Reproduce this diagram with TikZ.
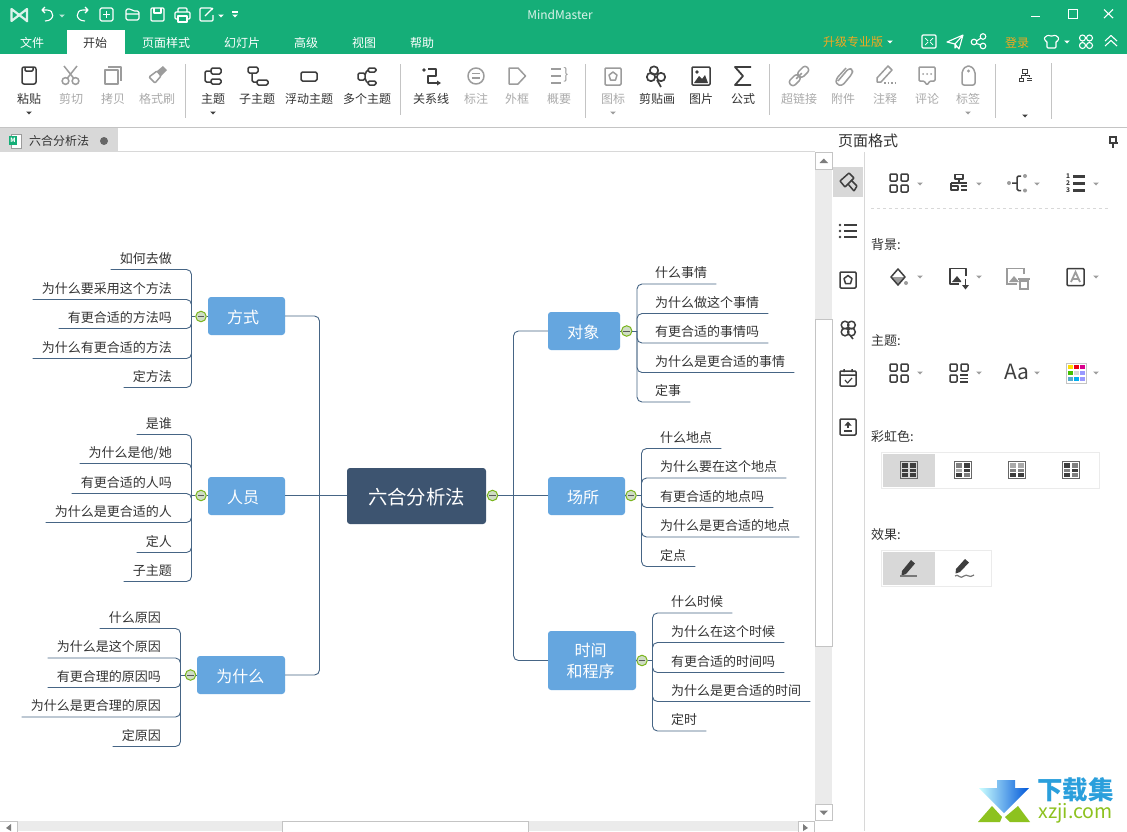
\documentclass[tikz,border=0pt]{standalone}
\usepackage{fontspec}
\setmainfont{Noto Sans CJK SC}
\usetikzlibrary{positioning}

\definecolor{barg}{HTML}{15AE78}
\definecolor{rootc}{HTML}{3D5470}
\definecolor{topicc}{HTML}{65A6DF}
\definecolor{linkc}{HTML}{466585}
\definecolor{icond}{HTML}{3E3E3E}
\definecolor{icong}{HTML}{9C9C9C}
\definecolor{textd}{HTML}{333333}
\definecolor{textg}{HTML}{AAAAAA}
\definecolor{panelg}{HTML}{D8D8D8}
\definecolor{trackg}{HTML}{EBEBEB}
\definecolor{edgeg}{HTML}{C4C4C4}
\definecolor{orangec}{HTML}{F5A81E}
\definecolor{ringc}{HTML}{7AB51D}
\definecolor{togglec}{HTML}{CFDDC4}
\definecolor{wmblue}{HTML}{2A9FDC}
\definecolor{wmgreen}{HTML}{8DC21F}

\tikzset{
    root/.style={draw=none, fill=rootc, rounded corners=3pt, text=white, minimum width=139pt, minimum height=56pt, inner sep=0pt, text height=17pt, text depth=0pt, font=\fontsize{19.4}{23}\selectfont},
    topic/.style={draw=none, fill=topicc, rounded corners=3pt, text=white, minimum height=38pt, inner sep=0pt, align=center, font=\fontsize{16}{21}\selectfont},
    topicone/.style={topic, text height=15pt, text depth=0pt},
    leafl/.style={anchor=south east, inner xsep=9pt, inner ysep=4.2pt, text height=10pt, text depth=2pt, text=textd, font=\fontsize{13}{15}\selectfont},
    leafr/.style={anchor=south west, inner xsep=9pt, inner ysep=4.2pt, text height=10pt, text depth=2pt, text=textd, font=\fontsize{13}{15}\selectfont},
    link/.style={draw=linkc, line width=0.9pt, rounded corners=5pt},
    toggle/.style={circle, draw=ringc, fill=togglec, line width=1pt, minimum size=10.5pt, inner sep=0pt,
        path picture={\draw[black!65, line width=0.8pt] ([xshift=2pt]path picture bounding box.west) -- ([xshift=-2pt]path picture bounding box.east);}},
    bartxt/.style={text=white, inner sep=0pt, font=\fontsize{12}{14}\selectfont},
    rlabel/.style={text=textd, inner sep=0pt, font=\fontsize{12}{14}\selectfont},
    rlabelg/.style={rlabel, text=textg},
    plabel/.style={anchor=west, text=textd, inner sep=0pt, font=\fontsize{13}{15}\selectfont},
    icon/.style={draw=icond, line width=1.5pt, line join=round},
    icongs/.style={draw=icong, line width=1.5pt, line join=round},
    iconw/.style={draw=white, line width=1.1pt, line join=round},
    drop/.pic={\path[pic actions] (-2.8,-1.5) -- (2.8,-1.5) -- (0,1.5) -- cycle;},
    fourbox/.pic={
        \draw[icon, rounded corners=1pt] (-9,-9) rectangle (-2,-2) (2,-9) rectangle (9,-2) (-9,2) rectangle (-2,9) (2,2) rectangle (9,9);
    }
}

% one table icon of the rainbow row
\newcommand{\tblicon}[8]{
    \draw[draw=#2!80!black, line width=1pt] (#1-8.5,470-8.5) rectangle (#1+8.5,470+8.5);
    \fill[#3] (#1-7,463) rectangle (#1-0.8,467.6);
    \fill[#4] (#1+0.8,463) rectangle (#1+7,467.6);
    \fill[#5] (#1-7,468.6) rectangle (#1-0.8,472.4);
    \fill[#6] (#1+0.8,468.6) rectangle (#1+7,472.4);
    \fill[#7] (#1-7,473.4) rectangle (#1-0.8,477);
    \fill[#8] (#1+0.8,473.4) rectangle (#1+7,477);
}

\begin{document}
\begin{tikzpicture}[x=1pt, y=-1pt]

    \useasboundingbox (0,0) rectangle (1127,831);
    \fill[white] (0,0) rectangle (1127,831);

    % Title bar and tabs
    \fill[barg] (0,0) rectangle (1127,54);
    \fill[white] (67,30) rectangle (125,54);
    \node[bartxt, text=white!85!barg] (apptitle) at (560,15) {MindMaster};
    \node[bartxt] (tabfile) at (32,43) {文件};
    \node[bartxt, text=textd] (tabstart) at (95,43) {开始};
    \node[bartxt] (tabpage) at (166,43) {页面样式};
    \node[bartxt] (tabslide) at (242,43) {幻灯片};
    \node[bartxt] (tabadv) at (306,43) {高级};
    \node[bartxt] (tabview) at (364,43) {视图};
    \node[bartxt] (tabhelp) at (422,43) {帮助};
    \node[bartxt, text=orangec] (tabpro) at (853,42) {升级专业版};
    \node[bartxt, text=orangec] (tablogin) at (1017,42.5) {登录};

    % Quick access icons
    \draw[white!85!barg, line width=2.2pt, line join=round] (27,22) -- (27,9) -- (11.5,21) -- (11.5,9) -- (27,21);
    \draw[iconw] (42,10) -- (47,10) .. controls (55,10) and (55,21) .. (45,21) (45,7) -- (42,10) -- (45,13);
    \pic[fill=white!70!barg] at (62,16) {drop};
    \draw[iconw] (88,10) -- (83,10) .. controls (75,10) and (75,21) .. (85,21) (85,7) -- (88,10) -- (85,13);
    \draw[iconw, rounded corners=1.5pt] (100,8) rectangle (113,21);
    \draw[iconw] (106.5,11) -- (106.5,18) (103,14.5) -- (110,14.5);
    \draw[iconw, rounded corners=1.5pt] (126,20) -- (126,9) -- (131,9) -- (133,11) -- (139,11) -- (139,20) -- cycle (126,14) -- (139,14);
    \draw[iconw, rounded corners=1pt] (151,8) rectangle (164,21);
    \draw[iconw] (154,8) -- (154,13) -- (161,13) -- (161,8);
    \draw[iconw, rounded corners=1pt] (178,12) -- (178,8) -- (187,8) -- (187,12) (178,19) -- (175,19) -- (175,12) -- (190,12) -- (190,19) -- (187,19);
    \draw[iconw] (178,16) rectangle (187,22);
    \draw[iconw, rounded corners=1pt] (212,10) -- (212,8) -- (200,8) -- (200,21) -- (213,21) -- (213,15);
    \draw[iconw] (205,16) -- (213,8);
    \pic[fill=white] at (221,16) {drop};
    \fill[white] (232,11) rectangle (238,12.5);
    \pic[fill=white] at (235,16) {drop};

    % Window buttons
    \draw[white, line width=1.3pt] (1031,16.5) -- (1040,16.5);
    \draw[white, line width=1pt] (1068,9.5) rectangle (1077,18.5);
    \draw[white, line width=1.1pt] (1104,9.5) -- (1113,18) (1113,9.5) -- (1104,18);

    % Icons right of the tabs
    \pic[fill=white] at (890,42) {drop};
    \draw[iconw, rounded corners=1pt] (922,35) rectangle (936,48);
    \draw[iconw, line width=0.7pt] (925,38) -- (928,41) (933,38) -- (930,41) (925,45) -- (928,42) (933,45) -- (930,42);
    \draw[iconw] (947,42) -- (963,35) -- (959,49) -- (955,44) -- cycle (955,44) -- (955,48) -- (957,46) (955,44) -- (963,35);
    \draw[iconw] (974,42) circle (2.8) (983,36.5) circle (2.8) (983,46) circle (2.8) (976.5,41) -- (981,38) (976.5,43.5) -- (981,45);
    \draw[iconw, rounded corners=1pt] (1044,38) -- (1048,35) -- (1050,36) -- (1053,36) -- (1055,35) -- (1059,38) -- (1057,42) -- (1056,41) -- (1056,48) -- (1047,48) -- (1047,41) -- (1046,42) -- cycle;
    \pic[fill=white] at (1067,42) {drop};
    \draw[iconw] (1082.5,38) circle (3) (1089.5,38) circle (3) (1082.5,45.5) circle (3) (1089.5,45.5) circle (3);
    \draw[iconw] (1105,41) -- (1111,35.5) -- (1117,41) (1105,46) -- (1111,40.5) -- (1117,46);

    % Ribbon labels
    \node[rlabel] (paste) at (29,99) {粘贴};
    \node[rlabelg] (cut) at (71,99) {剪切};
    \node[rlabelg] (copy) at (113,99) {拷贝};
    \node[rlabelg] (brush) at (157,99) {格式刷};
    \node[rlabel] (mtopic) at (213,99) {主题};
    \node[rlabel] (subtopic) at (257,99) {子主题};
    \node[rlabel] (floattopic) at (309,99) {浮动主题};
    \node[rlabel] (multitopic) at (367,99) {多个主题};
    \node[rlabel] (relline) at (431,99) {关系线};
    \node[rlabelg] (callout) at (476,99) {标注};
    \node[rlabelg] (frame) at (517,99) {外框};
    \node[rlabelg] (summary) at (559,99) {概要};
    \node[rlabelg] (mark) at (613,99) {图标};
    \node[rlabel] (clipart) at (657,99) {剪贴画};
    \node[rlabel] (photo) at (701,99) {图片};
    \node[rlabel] (formula) at (743,99) {公式};
    \node[rlabelg] (hyper) at (799,99) {超链接};
    \node[rlabelg] (attach) at (843,99) {附件};
    \node[rlabelg] (remark) at (885,99) {注释};
    \node[rlabelg] (comment) at (927,99) {评论};
    \node[rlabelg] (tag) at (968,99) {标签};

    % Ribbon separators
    \draw[edgeg, line width=0.8pt] (185,64) -- (185,118) (400,64) -- (400,115) (585,64) -- (585,118) (769,64) -- (769,115) (995,64) -- (995,118) (1051,63) -- (1051,119);
    \pic[fill=icond] at (29,113) {drop};
    \pic[fill=icond] at (213,113) {drop};
    \pic[fill=icong] at (613,113) {drop};
    \pic[fill=icong] at (968,113) {drop};
    \pic[fill=icond] at (1025,116) {drop};

    % Ribbon icons
    \begin{scope}[shift={(0,-4)}]
    \draw[icon, rounded corners=2pt] (22,71) rectangle (36,88);
    \draw[icon, rounded corners=1pt] (25,71) -- (25,75) -- (33,75) -- (33,71);
    \draw[icongs] (65.5,85) circle (3.4) (75.5,85) circle (3.4) (67.5,82) -- (77,70) (73.5,82) -- (64,70);
    \draw[icongs] (105,74) rectangle (118,88) (108,71) -- (121,71) -- (121,85);
    \draw[icongs, rounded corners=1pt] (149,81) -- (157,75) -- (161,80) -- (155,87) -- cycle;
    \fill[icong] (157,75) -- (161,80) -- (167,74) -- (163,70) -- cycle;
    \draw[icon, rounded corners=1.5pt] (211,72) rectangle (221,78) (211,83) rectangle (221,88) (211,75) -- (205,75) -- (205,86) -- (211,86);
    \draw[icon, rounded corners=1.5pt] (248,71) rectangle (258,77) (257,84) rectangle (268,89) (252,77) -- (252,86) -- (257,86);
    \draw[icon, rounded corners=1.5pt] (301,76) rectangle (317,85);
    \draw[icon, rounded corners=1.5pt] (358,77) rectangle (365,84) (368,72) rectangle (376,76) (368,85) rectangle (376,89) (365,79) -- (367,74) -- (368,74) (365,82) -- (367,87) -- (368,87);
    \fill[icond] (424,74) circle (1.8);
    \draw[icon] (428,73) -- (436,73) -- (436,80) -- (428,80) -- (428,87) -- (438,87);
    \fill[icond] (441,87) -- (437,84.5) -- (437,89.5) -- cycle;
    \draw[icongs] (476,80) circle (8);
    \draw[icongs, line width=1.1pt] (472,77.5) -- (480,77.5) (472,82) -- (480,82);
    \draw[icongs] (509,72) -- (518,72) -- (525.5,80) -- (518,88) -- (509,88) -- cycle;
    \draw[icongs, line width=1.3pt] (551,73) -- (561,73) (551,80) -- (561,80) (551,87) -- (561,87);
    \node[text=icong, inner sep=0pt, font=\fontsize{15}{15}\selectfont] (brace) at (566,79) {\}};
    \draw[icongs, rounded corners=1pt] (605,72) rectangle (621,89);
    \draw[icongs] (613,76) -- (617,79) -- (615.5,84) -- (610.5,84) -- (609,79) -- cycle;
    \draw[icon, line width=1.7pt] (654,74.5) circle (4.2) (651,81) circle (4.2) (661,81) circle (4.2) (657,84) -- (661,91);
    \draw[icon, rounded corners=1pt] (692,71) rectangle (710,89);
    \fill[icond] (694,87) -- (699,80) -- (702,83) -- (705,79) -- (708,87) -- cycle (697,76) circle (1.8);
    \draw[icon, line width=1.8pt] (751,71) -- (735,71) -- (743,80) -- (735,89) -- (751,89);
    \draw[icongs, rounded corners=3pt, rotate around={45:(799,80)}] (787,76.5) rectangle (799,83.5) (799,76.5) rectangle (811,83.5) (795,80) -- (803,80);
    \draw[icongs, rounded corners=3pt] (838,85) -- (849,72) -- (853,74) -- (852,78) -- (842,90) -- (836,88) -- (836,83) -- (846,72);
    \draw[icongs] (877,86) -- (877,82) -- (888,70) -- (892,74) -- (881,86) -- cycle;
    \draw[icongs, dotted] (884,87) -- (896,87);
    \draw[icongs, rounded corners=1pt] (919,71) -- (935,71) -- (935,85) -- (930,85) -- (927,89) -- (924,85) -- (919,85) -- cycle;
    \fill[icong] (923,78) circle (1) (927,78) circle (1) (931,78) circle (1);
    \draw[icongs, rounded corners=2pt] (962,89) -- (962,75) -- (966,70) -- (971,70) -- (975,75) -- (975,89) -- cycle;
    \fill[icong] (968.5,75) circle (1.6);
    \draw[icond, line width=1pt] (1022.5,73) rectangle (1027.5,77) (1025,77) -- (1025,79) (1019,82) rectangle (1023,85);
    \draw[icond, line width=1pt] (1027,82) -- (1032,82) (1027,84.5) -- (1032,84.5) (1021,82) -- (1021,79) -- (1029,79) -- (1029,80.5);
    \end{scope}

    % Document tab
    \draw[edgeg, line width=0.8pt] (0,127.5) -- (1127,127.5);
    \fill[panelg] (0,128) rectangle (118,151);
    \draw[panelg, line width=0.8pt] (0,151.5) -- (815,151.5);
    \draw[icong, fill=white, line width=0.6pt] (11,134) rectangle (21,148);
    \fill[barg] (9,136) rectangle (17,145);
    \node[text=white, inner sep=0pt, font=\bfseries\fontsize{6}{6}\selectfont] (docicon) at (13,140.5) {M};
    \node[rlabel, text=textd] (docname) at (59,141) {六合分析法};
    \fill[black!60] (104,141) circle (4);

    % Root
    \node[root] (liuhe) at (416.5,496) {六合分析法};
    \node[toggle] (liuhetg) at (492.5,495.5) {};

    % Left topics
    \node[topicone, minimum width=77pt] (fangshi) at (246.5,316) {方式\kern7pt};
    \node[topicone, minimum width=77pt] (renyuan) at (246.5,496) {人员\kern7pt};
    \node[topicone, minimum width=88pt] (weisha) at (241,675) {为什么\kern1.4pt};
    \node[toggle] (fangshitg) at (201,316.5) {};
    \node[toggle] (renyuantg) at (201,495.5) {};
    \node[toggle] (weishatg) at (190.5,675) {};

    % Right topics
    \node[topicone, minimum width=72pt] (duixiang) at (584,331) {对象\kern1.4pt};
    \node[topicone, minimum width=77pt] (changsuo) at (586.5,496) {场所\kern7pt};
    \node[topic, minimum width=88pt, minimum height=59pt] (shijian) at (592,660.5) {\raisebox{-1pt}{时间}\kern2.6pt\\\raisebox{-1pt}{和程序}\kern2.6pt};
    \node[toggle] (duixiangtg) at (626.7,331) {};
    \node[toggle] (changsuotg) at (631,495.5) {};
    \node[toggle] (shijiantg) at (642,660.5) {};

    % Bend points of the trunks
    \coordinate (leftj) at (319.5,495.5);
    \coordinate (rightj) at (513.5,495.5);
    \coordinate (fangshij) at (191.5,316.5);
    \coordinate (renyuanj) at (191.5,495.5);
    \coordinate (weishaj) at (180.5,675);
    \coordinate (duixiangj) at (637,331);
    \coordinate (changsuoj) at (641.5,495.5);
    \coordinate (shijianj) at (652.5,660.5);

    % Leaves of fangshi
    \node[leafl] (fs1) at (181,269.5) {如何去做};
    \node[leafl] (fs2) at (181,299.5) {为什么要采用这个方法};
    \node[leafl] (fs3) at (181,328.5) {有更合适的方法吗};
    \node[leafl] (fs4) at (181,358.5) {为什么有更合适的方法};
    \node[leafl] (fs5) at (181,387.5) {定方法};

    % Leaves of renyuan
    \node[leafl] (ry1) at (181,434.5) {是谁};
    \node[leafl] (ry2) at (181,463.5) {为什么是他/她};
    \node[leafl] (ry3) at (181,493.5) {有更合适的人吗};
    \node[leafl] (ry4) at (181,522.5) {为什么是更合适的人};
    \node[leafl] (ry5) at (181,552.5) {定人};
    \node[leafl] (ry6) at (181,581.5) {子主题};

    % Leaves of weisha
    \node[leafl] (ws1) at (170,628.5) {什么原因};
    \node[leafl] (ws2) at (170,658) {为什么是这个原因};
    \node[leafl] (ws3) at (170,687.5) {有更合理的原因吗};
    \node[leafl] (ws4) at (170,717) {为什么是更合理的原因};
    \node[leafl] (ws5) at (170,746.5) {定原因};

    % Leaves of duixiang
    \node[leafr] (dx1) at (646,284) {什么事情};
    \node[leafr] (dx2) at (646,313.5) {为什么做这个事情};
    \node[leafr] (dx3) at (646,343) {有更合适的事情吗};
    \node[leafr] (dx4) at (646,372.5) {为什么是更合适的事情};
    \node[leafr] (dx5) at (646,402) {定事};

    % Leaves of changsuo
    \node[leafr] (cs1) at (651,448.5) {什么地点};
    \node[leafr] (cs2) at (651,478) {为什么要在这个地点};
    \node[leafr] (cs3) at (651,507.5) {有更合适的地点吗};
    \node[leafr] (cs4) at (651,537) {为什么是更合适的地点};
    \node[leafr] (cs5) at (651,566.5) {定点};

    % Leaves of shijian
    \node[leafr] (sj1) at (662,613) {什么时候};
    \node[leafr] (sj2) at (662,642.5) {为什么在这个时候};
    \node[leafr] (sj3) at (662,672.5) {有更合适的时间吗};
    \node[leafr] (sj4) at (662,701.5) {为什么是更合适的时间};
    \node[leafr] (sj5) at (662,731) {定时};

    % Links from the root
    \draw[link] (fangshi.east) -| (leftj);
    \draw[link] (weisha.east) -| (leftj);
    \draw[link] (renyuan.east |- leftj) -- (liuhe.west |- leftj);
    \draw[link] (duixiang.west) -| (rightj);
    \draw[link] (shijian.west) -| (rightj);
    \draw[link] (changsuo.west |- rightj) -- (liuhetg.east);

    % Links to the toggles
    \draw[link] (fangshi.west |- fangshitg) -- (fangshitg.east);
    \draw[link] (renyuan.west |- renyuantg) -- (renyuantg.east);
    \draw[link] (weisha.west |- weishatg) -- (weishatg.east);
    \draw[link] (duixiang.east |- duixiangtg) -- (duixiangtg.west);
    \draw[link] (changsuo.east |- changsuotg) -- (changsuotg.west);
    \draw[link] (shijian.east |- shijiantg) -- (shijiantg.west);
    \draw[link] (fangshij) -- (fangshitg.west);
    \draw[link] (renyuanj) -- (renyuantg.west);
    \draw[link] (weishaj) -- (weishatg.west);
    \draw[link] (duixiangj) -- (duixiangtg.east);
    \draw[link] (changsuoj) -- (changsuotg.east);
    \draw[link] (shijianj) -- (shijiantg.east);

    % Links of the leaves, left
    \draw[link] (fs1.south west) -| (fangshij);
    \draw[link] (fs2.south west) -| (fangshij);
    \draw[link] (fs3.south west) -| (fangshij);
    \draw[link] (fs4.south west) -| (fangshij);
    \draw[link] (fs5.south west) -| (fangshij);
    \draw[link] (ry1.south west) -| (renyuanj);
    \draw[link] (ry2.south west) -| (renyuanj);
    \draw[link] (ry3.south west) -| (renyuanj);
    \draw[link] (ry4.south west) -| (renyuanj);
    \draw[link] (ry5.south west) -| (renyuanj);
    \draw[link] (ry6.south west) -| (renyuanj);
    \draw[link] (ws1.south west) -| (weishaj);
    \draw[link] (ws2.south west) -| (weishaj);
    \draw[link] (ws3.south west) -| (weishaj);
    \draw[link] (ws4.south west) -| (weishaj);
    \draw[link] (ws5.south west) -| (weishaj);

    % Links of the leaves, right
    \draw[link] (dx1.south east) -| (duixiangj);
    \draw[link] (dx2.south east) -| (duixiangj);
    \draw[link] (dx3.south east) -| (duixiangj);
    \draw[link] (dx4.south east) -| (duixiangj);
    \draw[link] (dx5.south east) -| (duixiangj);
    \draw[link] (cs1.south east) -| (changsuoj);
    \draw[link] (cs2.south east) -| (changsuoj);
    \draw[link] (cs3.south east) -| (changsuoj);
    \draw[link] (cs4.south east) -| (changsuoj);
    \draw[link] (cs5.south east) -| (changsuoj);
    \draw[link] (sj1.south east) -| (shijianj);
    \draw[link] (sj2.south east) -| (shijianj);
    \draw[link] (sj3.south east) -| (shijianj);
    \draw[link] (sj4.south east) -| (shijianj);
    \draw[link] (sj5.south east) -| (shijianj);

    % Scrollbars
    \fill[trackg] (815,152) rectangle (832,821);
    \draw[edgeg, fill=white, line width=0.8pt] (815.5,152.5) rectangle (832,169);
    \draw[edgeg, fill=white, line width=0.8pt] (815.5,319.5) rectangle (832,646.5);
    \draw[edgeg, fill=white, line width=0.8pt] (815.5,804.5) rectangle (832,820.5);
    \fill[icong!80!black] (819.5,163) -- (828,163) -- (823.8,158.5) -- cycle (819.5,810.5) -- (828,810.5) -- (823.8,815) -- cycle;
    \fill[trackg] (0,821) rectangle (814,831);
    \draw[edgeg, fill=white, line width=0.8pt] (282.5,821.5) rectangle (528.5,832);
    \draw[edgeg, fill=white, line width=0.8pt] (-1,821.5) rectangle (17.5,832);
    \draw[edgeg, fill=white, line width=0.8pt] (798.5,821.5) rectangle (814.5,832);
    \fill[icong!80!black] (11,824) -- (11,831) -- (6,828) -- cycle (803,824) -- (803,831) -- (808,828) -- cycle;

    % Side panel
    \node[text=textd, inner sep=0pt, font=\fontsize{15}{17}\selectfont] (pagefmt) at (868,141) {页面格式};
    \draw[icond, line width=1.1pt] (1110,137) rectangle (1116,143) (1108.5,143) -- (1117.5,143) (1113,143) -- (1113,148);
    \draw[panelg, line width=0.9pt] (864.5,152) -- (864.5,831);
    \fill[panelg] (833,167) rectangle (863,197);

    % Side panel tabs
    \draw[icon, rounded corners=0.5pt] (840,181) -- (849,173) -- (854,178) -- (845,187) -- cycle;
    \draw[icon, rounded corners=0.5pt] (851,180) -- (857,186) -- (854,191) -- (848,184);
    \draw[icon, line width=2.6pt] (844,225) -- (857,225) (844,231) -- (857,231) (844,237) -- (857,237);
    \fill[icond] (840,225) circle (1.3) (840,231) circle (1.3) (840,237) circle (1.3);
    \draw[icon, rounded corners=1pt] (840,272) rectangle (856,288);
    \draw[icon] (848,275.5) -- (852,278.5) -- (850.5,283.5) -- (845.5,283.5) -- (844,278.5) -- cycle;
    \draw[icon] (845,325) circle (3.8) (851.5,325) circle (3.8) (845,332) circle (3.8) (851.5,332) circle (3.8) (849,334) -- (853,339);
    \draw[icon, rounded corners=1pt] (840,371) rectangle (856,386) (840,375) -- (856,375) (844,369) -- (844,372) (852,369) -- (852,372);
    \draw[icon, line width=1.2pt] (845,380) -- (847.5,383) -- (852,378);
    \draw[icon, rounded corners=1pt] (840,419) rectangle (856,435);
    \draw[icon] (844,431) -- (852,431) (848,428) -- (848,423);
    \fill[icond] (848,421.5) -- (851.5,425.5) -- (844.5,425.5) -- cycle;

    % Panel row one
    \pic at (899,183) {fourbox};
    \draw[icon, line width=1.4pt] (955,174.5) rectangle (963,179) (959,179) -- (959,183) (951,183) -- (967,183) (951,183) -- (951,186) (951,186) rectangle (958,190);
    \draw[icon, line width=1.4pt] (961,186) -- (967,186) (961,190) -- (967,190);
    \fill[icong] (1009,183) circle (2) (1025,176) circle (2) (1025,190.5) circle (2);
    \draw[icon, rounded corners=1.5pt] (1021,176) -- (1017,176) -- (1017,190.5) -- (1021,190.5) (1012,183) -- (1017,183);
    \draw[icon, line width=3pt] (1073,176) -- (1085,176) (1073,183) -- (1085,183) (1073,190) -- (1085,190);
    \node[text=icond, inner sep=0pt, font=\bfseries\fontsize{6.5}{6.5}\selectfont] (n1) at (1068,176) {1};
    \node[text=icond, inner sep=0pt, font=\bfseries\fontsize{6.5}{6.5}\selectfont] (n2) at (1068,183) {2};
    \node[text=icond, inner sep=0pt, font=\bfseries\fontsize{6.5}{6.5}\selectfont] (n3) at (1068,190.5) {3};
    \pic[fill=icong] at (920,184) {drop};
    \pic[fill=icong] at (979,184) {drop};
    \pic[fill=icong] at (1037,184) {drop};
    \pic[fill=icong] at (1096,184) {drop};
    \draw[panelg, dashed, line width=0.8pt] (871,208.5) -- (1109,208.5);

    % Panel background row
    \node[plabel] (bgtxt) at (871,245) {背景:};
    \fill[icong] (891,277) -- (905,277) -- (898,285) -- cycle (906,283) circle (2);
    \draw[icon] (898,269) -- (905,277) -- (898,285) -- (891,277) -- cycle;
    \draw[icon, line width=1.2pt] (966,276) -- (966,268.5) -- (950,268.5) -- (950,284) -- (959,284);
    \fill[icond] (952,282) -- (957,276) -- (961,281) -- (961,282) -- cycle (962,285) -- (969,285) -- (965.5,289.5) -- cycle;
    \draw[icond, line width=1.8pt] (965.5,279) -- (965.5,286);
    \draw[icong, line width=1.2pt] (1024,274) -- (1024,268.5) -- (1007,268.5) -- (1007,284) -- (1017,284);
    \fill[icong] (1009,282) -- (1014,276) -- (1019,282) -- cycle;
    \draw[icong, line width=1.2pt] (1018,279) -- (1030,279) (1020,281) rectangle (1028,289);
    \draw[icon, rounded corners=1pt] (1067,268.5) rectangle (1084,285.5);
    \draw[icong, line width=1.8pt] (1071,282) -- (1075.5,272) -- (1080,282) (1073,279) -- (1078,279);
    \pic[fill=icong] at (920,277) {drop};
    \pic[fill=icong] at (979,277) {drop};
    \pic[fill=icong] at (1096,277) {drop};

    % Panel theme row
    \node[plabel] (themetxt) at (871,341) {主题:};
    \pic at (899,373) {fourbox};
    \draw[icon, rounded corners=1pt] (950,364) rectangle (957,371) (961,364) rectangle (968,371) (950,375) rectangle (957,382);
    \draw[icon, line width=1.4pt] (960,375) -- (968,375) (960,378.5) -- (968,378.5) (960,382) -- (968,382);
    \node[text=icond, inner sep=0pt, font=\fontsize{21}{21}\selectfont] (fontaa) at (1017,372) {Aa};
    \draw[edgeg, line width=0.8pt] (1066,363) rectangle (1086,383);
    \fill[yellow!80!orange] (1068,365) rectangle (1073,369);
    \fill[red!70!purple] (1074,365) rectangle (1079,369);
    \fill[purple!60!magenta] (1080,365) rectangle (1085,369);
    \fill[green!50!olive] (1068,371) rectangle (1073,375);
    \fill[panelg] (1074,371) rectangle (1079,375);
    \fill[blue!40!white] (1080,371) rectangle (1085,375);
    \fill[cyan!60!gray] (1068,377) rectangle (1073,381);
    \fill[cyan] (1074,377) rectangle (1079,381);
    \fill[blue!40!white] (1080,377) rectangle (1085,381);
    \pic[fill=icong] at (920,373) {drop};
    \pic[fill=icong] at (979,373) {drop};
    \pic[fill=icong] at (1037,373) {drop};
    \pic[fill=icong] at (1096,373) {drop};

    % Panel rainbow row
    \node[plabel] (rainbowtxt) at (871,437) {彩虹色:};
    \draw[trackg, line width=0.9pt] (881.5,452.5) rectangle (1099.5,488.5);
    \fill[panelg] (883,454) rectangle (935,487);
    \tblicon{909}{gray}{icond}{icond}{icond}{icond}{icond}{icond}
    \tblicon{963}{gray}{gray}{icond}{textg}{icond}{icond}{gray}
    \tblicon{1017}{gray}{textg}{textg}{gray}{gray}{icond}{icond}
    \tblicon{1071}{gray}{icond}{gray}{gray}{icond}{icond}{gray}

    % Panel effect row
    \node[plabel] (effecttxt) at (871,535) {效果:};
    \draw[trackg, line width=0.9pt] (881.5,550.5) rectangle (991.5,586.5);
    \fill[panelg] (883,552) rectangle (935,585);
    \fill[icond] (902,571) -- (911,560) -- (915,563.5) -- (906,574) -- (901.5,575.5) -- cycle;
    \fill[icond!70] (900,575) rectangle (917,577);
    \fill[icond] (956,569) -- (965,559) -- (969,562.5) -- (960,572) -- (955.5,573.5) -- cycle;
    \draw[icond!70, line width=1.2pt] (955,576) .. controls (958,573) and (960,580) .. (964,576) .. controls (967,573) and (969,579) .. (974,575);

    % Watermark
    \shade[left color=cyan!20, middle color=wmblue, right color=blue!60!cyan!85!black] (979,788) -- (997,788) -- (997,780) -- (1015,780) -- (1015,788) -- (1029,788) -- (1004,813) -- cycle;
    \fill[wmgreen] (978,822) -- (1000,822) -- (1002,817) -- (992,806) -- cycle (1030,822) -- (1010,822) -- (1005,817) -- (1018,806) -- cycle;
    \node[text=wmblue, inner sep=0pt, font=\bfseries\fontsize{25.5}{25.5}\selectfont] (wmcn) at (1075.5,790) {下载集};
    \node[text=wmgreen, inner sep=0pt, font=\fontsize{19.5}{19.5}\selectfont] (wmen) at (1075.5,813) {xzji.com};

\end{tikzpicture}
\end{document}
